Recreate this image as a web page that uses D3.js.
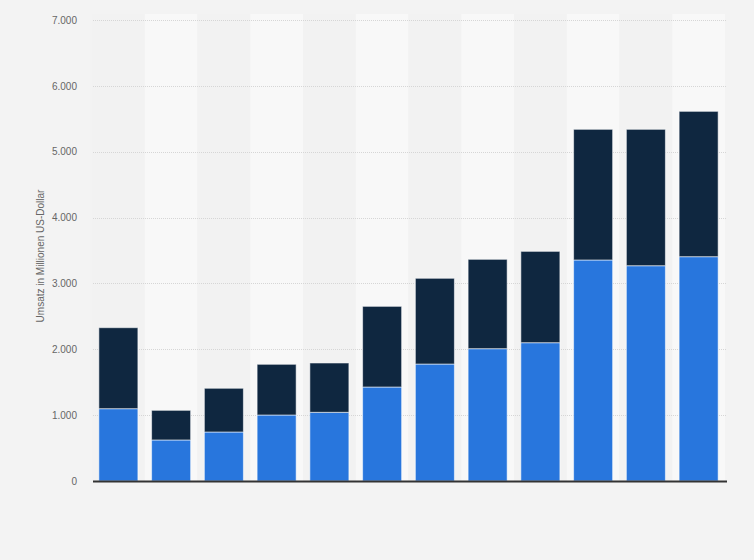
<!DOCTYPE html>
<html>
<head>
<meta charset="utf-8">
<script src="https://cdn.jsdelivr.net/npm/d3@7"></script>
<style>
  html, body { margin: 0; padding: 0; background: #f3f3f3; }
  svg { display: block; }
  text { font-family: "Liberation Sans", Arial, sans-serif; }
</style>
</head>
<body>
<svg id="chart" width="754" height="560"></svg>
<script>
const categories = ["1","2","3","4","5","6","7","8","9","10","11","12"];
const seriesBlue = [1098, 623, 744, 1002, 1043, 1427, 1776, 2009, 2100, 3356, 3269, 3406];
const seriesDark = [1230, 450, 664, 770, 749, 1225, 1302, 1357, 1387, 1984, 2071, 2207];
const yTicks = [0, 1000, 2000, 3000, 4000, 5000, 6000, 7000];
const yTitle = "Umsatz in Millionen US-Dollar";

const svg = d3.select("#chart");
const W = 754, H = 560;
const m = { left: 93, right: 27, top: 20, bottom: 79 };
const x0 = m.left, x1 = W - m.right, yTop = m.top, yBot = H - m.bottom;

svg.append("rect").attr("width", W).attr("height", H).attr("fill", "#f3f3f3");

const x = d3.scaleBand().domain(categories).range([92, 725]).paddingInner(0.26).paddingOuter(0.13);
const xb = d3.scaleBand().domain(categories).range([92, 725]).padding(0);
const y = d3.scaleLinear().domain([0, 7000]).range([yBot, yTop]);

// alternating bands
svg.append("g").selectAll("rect").data(categories).join("rect")
  .attr("x", d => xb(d)).attr("y", yTop - 6)
  .attr("width", xb.bandwidth()).attr("height", yBot - yTop + 6)
  .attr("fill", (d, i) => i % 2 ? "#f8f8f8" : "#f2f2f2");

// grid
const grid = svg.append("g");
grid.selectAll("line").data(yTicks.filter(t => t > 0)).join("line")
  .attr("x1", x0).attr("x2", x1)
  .attr("y1", d => Math.round(y(d)) + 0.5).attr("y2", d => Math.round(y(d)) + 0.5)
  .attr("stroke", "#d6d6d6").attr("stroke-dasharray", "1,1");

// y axis
const yAxis = d3.axisLeft(y).tickValues(yTicks).tickSize(0).tickPadding(16)
  .tickFormat(d => d3.format(",")(d).replace(/,/g, "."));
const ga = svg.append("g").attr("transform", `translate(${x0},0)`).call(yAxis);
ga.select(".domain").remove();
ga.selectAll("text").attr("fill", "#666").attr("font-size", 10);

svg.append("text")
  .attr("transform", `translate(44,256) rotate(-90)`)
  .attr("text-anchor", "middle").attr("fill", "#666").attr("font-size", 10)
  .text(yTitle);

// stacked bars
const data = categories.map((c, i) => ({ c, blue: seriesBlue[i], dark: seriesDark[i] }));
const stack = d3.stack().keys(["blue", "dark"])(data);
const colors = { blue: "#2876dd", dark: "#0f2740" };
svg.append("g").selectAll("g").data(stack).join("g")
  .attr("fill", d => colors[d.key])
  .selectAll("rect").data(d => d).join("rect")
  .attr("x", d => x(d.data.c)).attr("width", x.bandwidth())
  .attr("y", d => y(d[1])).attr("height", d => y(d[0]) - y(d[1]))
  .attr("stroke", "rgba(255,255,255,0.55)").attr("stroke-width", 1);

// baseline
svg.append("line").attr("x1", x0).attr("x2", x1)
  .attr("y1", yBot + 0.5).attr("y2", yBot + 0.5)
  .attr("stroke", "#333").attr("stroke-width", 2);
</script>
</body>
</html>
